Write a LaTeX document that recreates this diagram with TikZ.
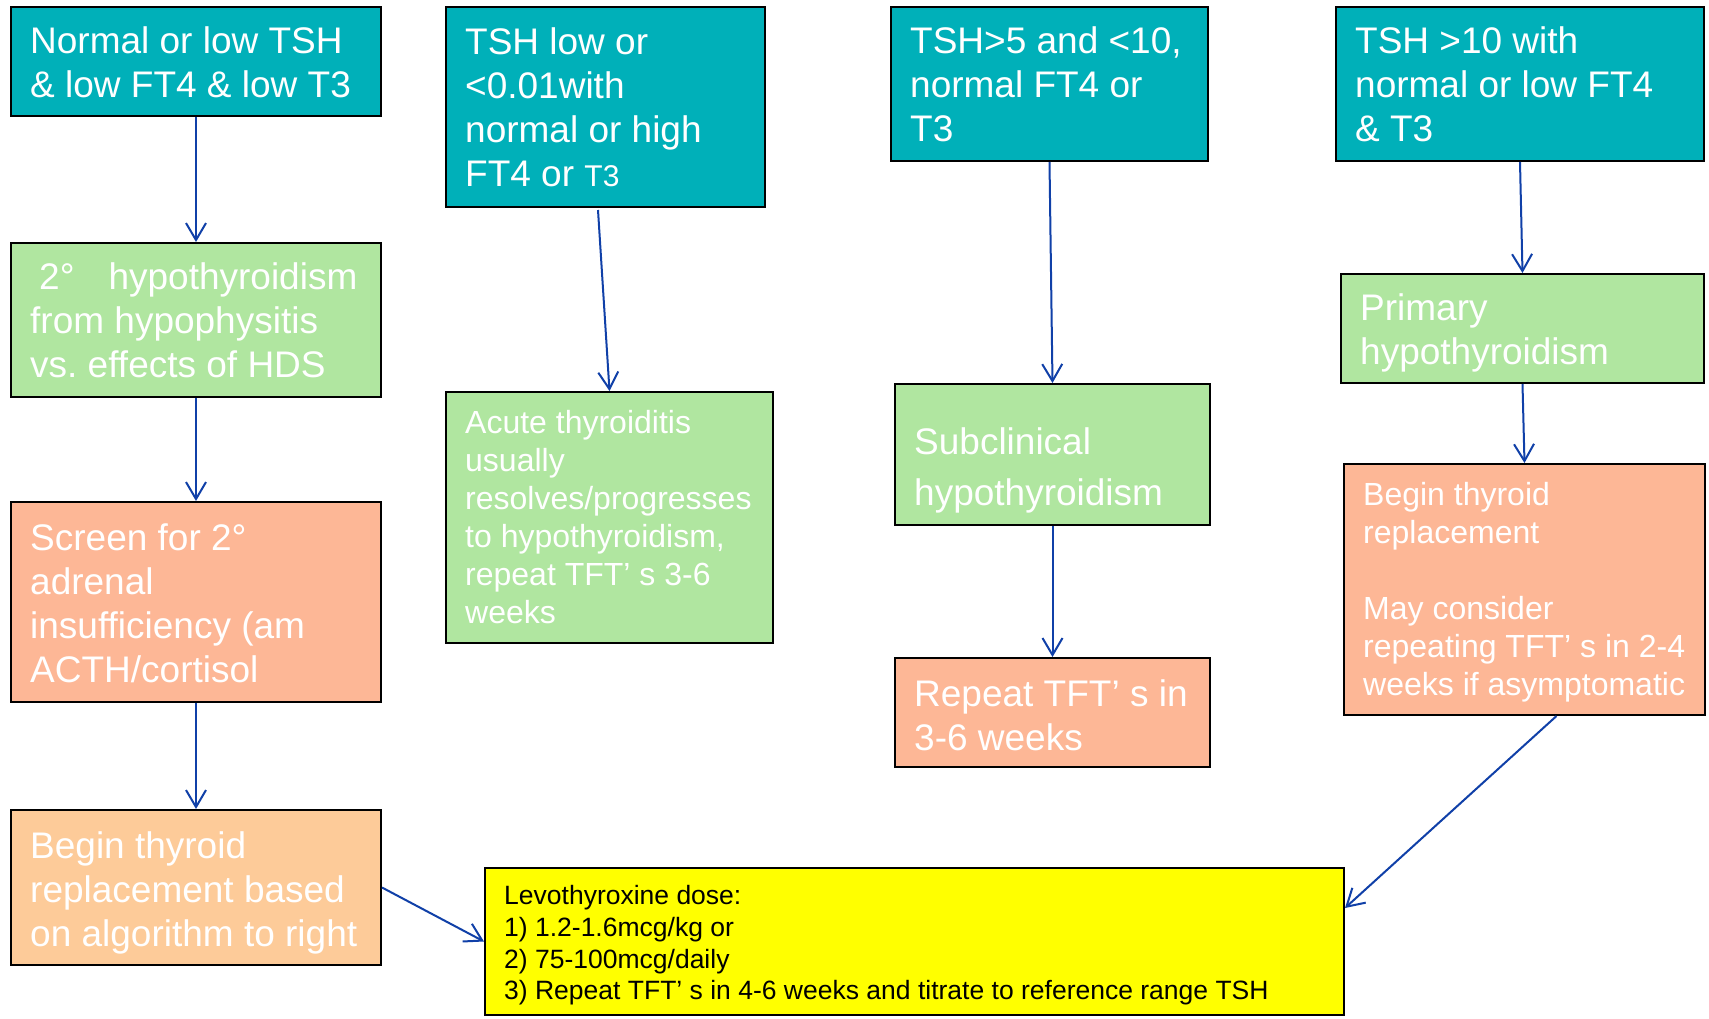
\documentclass[tikz,border=0pt]{standalone}
\usepackage{fontspec}
\setmainfont{Liberation Sans}
\usetikzlibrary{arrows.meta,calc}
\definecolor{tealc}{RGB}{0,176,185}
\definecolor{greenc}{RGB}{176,230,160}
\definecolor{salmonc}{RGB}{253,183,150}
\definecolor{lorangec}{RGB}{253,203,153}
\definecolor{yellowc}{RGB}{255,255,0}
\definecolor{arrc}{RGB}{16,64,168}
\frenchspacing
\tikzset{
  box/.style={draw=black, line width=2pt, inner sep=0pt, anchor=center},
  tealbox/.style={box, fill=tealc},
  greenbox/.style={box, fill=greenc},
  salmonbox/.style={box, fill=salmonc},
  lorangebox/.style={box, fill=lorangec},
  yellowbox/.style={box, fill=yellowc},
  txt/.style={text=white, align=left, inner sep=0pt, anchor=west, font=\fontsize{37}{44}\selectfont},
  smalltxt/.style={txt, font=\fontsize{32}{38}\selectfont},
  darktxt/.style={txt, text=black, font=\fontsize{26.5}{31.6}\selectfont},
  arr/.style={draw=arrc, line width=2pt, -{Straight Barb[length=17pt,width=20pt]}},
}
\begin{document}
\begin{tikzpicture}[x=1pt,y=-1pt]
\fill[white] (0,0) rectangle (1709,1018);
\useasboundingbox (0,0) rectangle (1709,1018);

% top row
\node[tealbox, minimum width=370pt, minimum height=109pt] (t1) at (196,61.5) {};
\node[txt] (t1t) at ($(t1.west)+(20,1)$) {Normal or low TSH\\ \& low FT4 \& low T3};
\node[tealbox, minimum width=319pt, minimum height=200pt] (t2) at (605.5,107) {};
\node[txt] (t2t) at ($(t2.west)+(20,0)$)
  {TSH low or\\ <0.01with\\ normal or high\\ FT4 or {\fontsize{30}{44}\selectfont T3}};
\node[tealbox, minimum width=317pt, minimum height=154pt] (t3) at (1049.5,84) {};
\node[txt] (t3t) at ($(t3.west)+(20,0)$) {TSH>5 and <10,\\ normal FT4 or\\ T3};
\node[tealbox, minimum width=368pt, minimum height=154pt] (t4) at (1520,84) {};
\node[txt] (t4t) at ($(t4.west)+(20,0)$) {TSH >10 with\\ normal or low FT4\\ \& T3};

% second row
\node[greenbox, minimum width=370pt, minimum height=154pt] (g1) at (196,320) {};
\node[txt] (g1t) at ($(g1.west)+(20,0)$)
  {\hspace*{9pt}2°\hspace{34pt}hypothyroidism\\ from hypophysitis\\ vs. effects of HDS};
\node[greenbox, minimum width=327pt, minimum height=251pt] (g2) at (609.5,517.5) {};
\node[smalltxt] (g2t) at ($(g2.west)+(20,0)$)
  {Acute thyroiditis\\ usually\\ resolves/progresses\\ to hypothyroidism,\\ repeat TFT’ s 3-6\\ weeks};
\node[greenbox, minimum width=315pt, minimum height=141pt] (g3) at (1052.5,454.5) {};
\node[txt, font=\fontsize{37}{51}\selectfont] (g3t) at ($(g3.west)+(20,15.5)$)
  {Subclinical\\ hypothyroidism};
\node[greenbox, minimum width=363pt, minimum height=109pt] (g4) at (1522.5,328.5) {};
\node[txt] (g4t) at ($(g4.west)+(20,4)$) {Primary\\ hypothyroidism};

% third row
\node[salmonbox, minimum width=370pt, minimum height=200pt] (s1) at (196,602) {};
\node[txt] (s1t) at ($(s1.west)+(20,1)$)
  {Screen for 2°\\ adrenal\\ insufficiency (am\\ ACTH/cortisol};
\node[salmonbox, minimum width=315pt, minimum height=109pt] (s2) at (1052.5,712.5) {};
\node[txt] (s2t) at ($(s2.west)+(20,3)$) {Repeat TFT’ s in\\ 3-6 weeks};
\node[salmonbox, minimum width=361pt, minimum height=251pt] (s3) at (1524.5,589.5) {};
\node[smalltxt] (s3t) at ($(s3.west)+(20,3)$)
  {Begin thyroid\\ replacement\\[38pt] May consider\\ repeating TFT’ s in 2-4\\ weeks if asymptomatic};

% bottom row
\node[lorangebox, minimum width=370pt, minimum height=155pt] (o1) at (196,887.5) {};
\node[txt] (o1t) at ($(o1.west)+(20,5)$)
  {Begin thyroid\\ replacement based\\ on algorithm to right};
\node[yellowbox, minimum width=859pt, minimum height=147pt] (yl) at (914.5,941.5) {};
\node[darktxt] (ylt) at ($(yl.west)+(20,4)$)
  {Levothyroxine dose:\\ 1) 1.2-1.6mcg/kg or\\ 2) 75-100mcg/daily\\ 3) Repeat TFT’ s in 4-6 weeks and titrate to reference range TSH};

% connectors
\draw[arr] (t1.south) -- (g1.north);
\draw[arr] ($(t2.south)+(-7.5,2)$) -- (g2.north);
\draw[arr] (t3.south) -- (g3.north);
\draw[arr] (t4.south) -- (g4.north);
\draw[arr] (g1.south) -- (s1.north);
\draw[arr] (g4.south) -- (s3.north);
\draw[arr] (g3.south) -- (s2.north);
\draw[arr] (s1.south) -- (o1.north);
\draw[arr] (o1.east) -- (yl.west);
\draw[arr] ($(s3.south)+(32,0)$) -- ($(yl.east)+(0,-33.5)$);
\end{tikzpicture}
\end{document}
